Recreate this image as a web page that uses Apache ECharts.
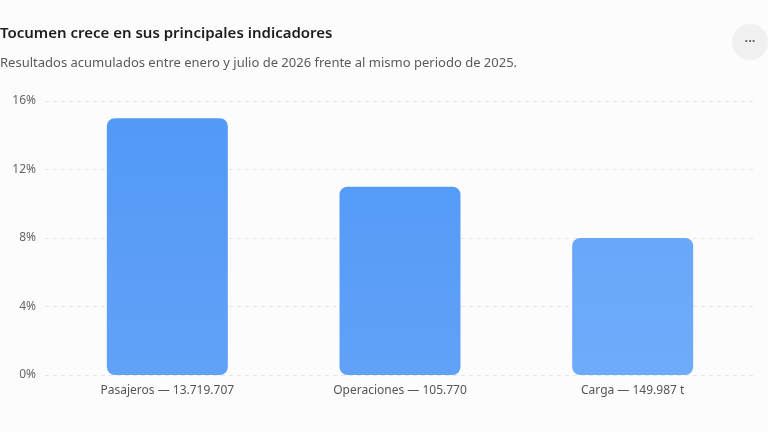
<!DOCTYPE html>
<html>
<head>
<meta charset="utf-8">
<script src="https://cdn.jsdelivr.net/npm/echarts@6/dist/echarts.min.js"></script>
<style>
html,body{margin:0;padding:0;background:#fcfcfc;}
#c{width:768px;height:432px;}
</style>
</head>
<body>
<div id="c"></div>
<script>
var categories = ['Pasajeros — 13.719.707', 'Operaciones — 105.770', 'Carga — 149.987 t'];
var growth = [15, 11, 8];
var yTicks = [0, 4, 8, 12, 16];

var barColors = [
  ['#5399f8', '#61a1f8'],
  ['#559bf8', '#61a1f8'],
  ['#68a7fa', '#6eabfa']
];

var chart = echarts.init(document.getElementById('c'), null, {renderer: 'canvas'});
var font = '"Noto Sans", "Open Sans", sans-serif';
chart.setOption({
  backgroundColor: '#fcfcfc',
  animation: false,
  textStyle: {fontFamily: font},
  title: [{
    text: 'Tocumen crece en sus principales indicadores',
    left: 0, top: 26, padding: 0,
    textStyle: {fontSize: 15, fontWeight: 600, color: '#1d1d1d', fontFamily: font}
  }, {
    text: 'Resultados acumulados entre enero y julio de 2026 frente al mismo periodo de 2025.',
    left: 0, top: 57, padding: 0,
    textStyle: {fontSize: 13, fontWeight: 'normal', color: '#5a5a5a', fontFamily: font}
  }],
  graphic: [{
    type: 'circle', shape: {cx: 750, cy: 42, r: 18},
    style: {fill: '#f0f0f0'}
  }, {
    type: 'text', x: 750, y: 41,
    style: {text: '···', fill: '#666', font: 'bold 13px ' + font, align: 'center', verticalAlign: 'middle'}
  }],
  grid: [
    {left: 45, right: 13, top: 101, bottom: 57},
    {left: 51, right: 19, top: 101, bottom: 57}
  ],
  xAxis: [{
    type: 'category', gridIndex: 0, data: categories, show: false
  }, {
    type: 'category', gridIndex: 1, data: categories,
    axisLine: {show: false}, axisTick: {show: false},
    axisLabel: {color: '#555', fontSize: 12, margin: 10, fontFamily: font}
  }],
  yAxis: [{
    type: 'value', gridIndex: 0, min: 0, max: 16, interval: 4,
    axisLine: {show: false}, axisTick: {show: false},
    axisLabel: {color: '#666', fontSize: 12, margin: 9, fontFamily: font, padding: [6, 0, 0, 0],
      formatter: function (v) { return yTicks.indexOf(v) >= 0 ? v + '%' : ''; }},
    splitLine: {lineStyle: {color: '#e6e6e6', type: [4, 4], width: 1}}
  }, {
    type: 'value', gridIndex: 1, min: 0, max: 16, interval: 4, show: false,
    splitLine: {show: false}
  }],
  series: [{
    type: 'bar',
    xAxisIndex: 1, yAxisIndex: 1,
    barWidth: 121,
    data: growth.map(function (v, i) {
      return {
        value: v,
        itemStyle: {
          borderRadius: 8,
          color: new echarts.graphic.LinearGradient(0, 0, 0, 1, [
            {offset: 0, color: barColors[i][0]},
            {offset: 1, color: barColors[i][1]}
          ])
        }
      };
    })
  }]
});
</script>
</body>
</html>
